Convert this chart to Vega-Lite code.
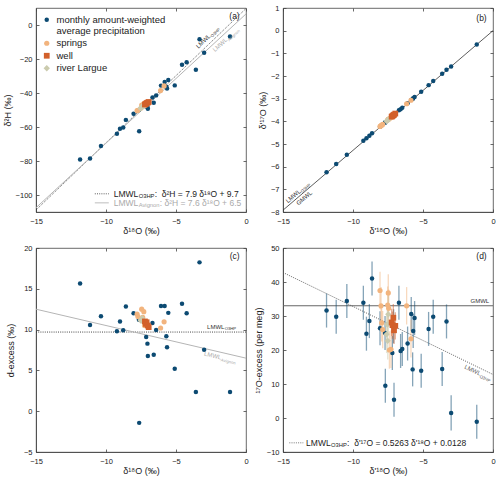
{
"$schema": "https://vega.github.io/schema/vega-lite/v6.json",
"padding": {"left": 2, "top": 3, "right": 5, "bottom": 2},
"bounds": "flush",
"columns": 2,
"spacing": {"row": 36, "column": 37},
"datasets": {
"pts": [
{"type":"precip","o18":-11.85,"h2":-79.14,"dex":15.66,"o18p":-11.89,"o17p":-6.246,"ex17":31.6,"err":5},
{"type":"precip","o18":-11.14,"h2":-78.55,"dex":10.57,"o18p":-11.2,"o17p":-5.884,"ex17":29.8,"err":5},
{"type":"precip","o18":-10.36,"h2":-71.24,"dex":11.64,"o18p":-10.44,"o17p":-5.478,"ex17":34.4,"err":5},
{"type":"precip","o18":-9.22,"h2":-63.96,"dex":9.8,"o18p":-9.26,"o17p":-4.855,"ex17":33.9,"err":5},
{"type":"precip","o18":-9.0,"h2":-61.0,"dex":11.0,"o18p":-9.04,"o17p":-4.748,"ex17":24.8,"err":5},
{"type":"precip","o18":-8.77,"h2":-60.24,"dex":9.92,"o18p":-8.83,"o17p":-4.634,"ex17":28.5,"err":5},
{"type":"precip","o18":-8.58,"h2":-55.81,"dex":12.83,"o18p":-8.64,"o17p":-4.521,"ex17":41.0,"err":5},
{"type":"precip","o18":-8.03,"h2":-52.24,"dex":12.0,"o18p":-8.07,"o17p":-4.235,"ex17":26.4,"err":5},
{"type":"precip","o18":-7.65,"h2":-50.0,"dex":11.2,"o18p":-7.71,"o17p":-4.046,"ex17":25.0,"err":5},
{"type":"precip","o18":-7.63,"h2":-62.47,"dex":-1.43,"o18p":-7.69,"o17p":-4.05,"ex17":9.5,"err":5},
{"type":"precip","o18":-7.13,"h2":-47.94,"dex":9.1,"o18p":-7.19,"o17p":-3.777,"ex17":19.1,"err":5},
{"type":"precip","o18":-7.04,"h2":-48.04,"dex":8.28,"o18p":-7.1,"o17p":-3.722,"ex17":27.0,"err":5},
{"type":"precip","o18":-7.01,"h2":-49.32,"dex":6.76,"o18p":-7.07,"o17p":-3.728,"ex17":5.4,"err":5},
{"type":"precip","o18":-6.68,"h2":-42.64,"dex":10.8,"o18p":-6.72,"o17p":-3.514,"ex17":33.9,"err":5},
{"type":"precip","o18":-6.59,"h2":-45.79,"dex":6.93,"o18p":-6.6,"o17p":-3.465,"ex17":19.7,"err":5},
{"type":"precip","o18":-6.42,"h2":-41.4,"dex":9.96,"o18p":-6.48,"o17p":-3.401,"ex17":20.3,"err":5},
{"type":"precip","o18":-6.07,"h2":-35.66,"dex":12.9,"o18p":-6.1,"o17p":-3.199,"ex17":21.9,"err":5},
{"type":"precip","o18":-5.81,"h2":-33.58,"dex":12.9,"o18p":-5.84,"o17p":-3.053,"ex17":30.6,"err":5},
{"type":"precip","o18":-5.69,"h2":-36.34,"dex":9.18,"o18p":-5.74,"o17p":-3.017,"ex17":14.3,"err":5},
{"type":"precip","o18":-5.64,"h2":-37.29,"dex":7.83,"o18p":-5.7,"o17p":-2.984,"ex17":25.6,"err":5},
{"type":"precip","o18":-5.55,"h2":-32.35,"dex":12.05,"o18p":-5.6,"o17p":-2.928,"ex17":29.4,"err":5},
{"type":"precip","o18":-5.09,"h2":-35.52,"dex":5.2,"o18p":-5.13,"o17p":-2.695,"ex17":13.9,"err":5},
{"type":"precip","o18":-4.57,"h2":-23.4,"dex":13.16,"o18p":-4.6,"o17p":-2.403,"ex17":26.2,"err":5},
{"type":"precip","o18":-4.24,"h2":-21.92,"dex":12.0,"o18p":-4.27,"o17p":-2.225,"ex17":29.8,"err":5},
{"type":"precip","o18":-3.58,"h2":-26.3,"dex":2.34,"o18p":-3.63,"o17p":-1.903,"ex17":14.4,"err":5},
{"type":"precip","o18":-3.32,"h2":-8.32,"dex":18.24,"o18p":-3.32,"o17p":-1.725,"ex17":28.4,"err":5},
{"type":"precip","o18":-2.99,"h2":-16.38,"dex":7.54,"o18p":-2.99,"o17p":-1.577,"ex17":1.5,"err":5.2},
{"type":"precip","o18":-1.14,"h2":-6.78,"dex":2.34,"o18p":-1.16,"o17p":-0.613,"ex17":-1.1,"err":5},
{"type":"springs","o18":-7.78,"h2":-50.34,"dex":11.9,"o18p":-8.07,"o17p":-4.224,"ex17":37.5,"err":5.5},
{"type":"springs","o18":-7.72,"h2":-50.16,"dex":11.6,"o18p":-8.0,"o17p":-4.191,"ex17":33.0,"err":5.5},
{"type":"springs","o18":-7.45,"h2":-47.1,"dex":12.5,"o18p":-7.95,"o17p":-4.17,"ex17":28.0,"err":5.5},
{"type":"springs","o18":-7.3,"h2":-46.2,"dex":12.2,"o18p":-7.88,"o17p":-4.135,"ex17":26.0,"err":5.5},
{"type":"springs","o18":-7.38,"h2":-47.54,"dex":11.5,"o18p":-7.48,"o17p":-3.912,"ex17":36.8,"err":5.5},
{"type":"springs","o18":-7.25,"h2":-47.5,"dex":10.5,"o18p":-7.52,"o17p":-3.938,"ex17":33.2,"err":5.5},
{"type":"springs","o18":-7.5,"h2":-48.8,"dex":11.2,"o18p":-7.45,"o17p":-3.902,"ex17":32.3,"err":5.5},
{"type":"springs","o18":-7.3,"h2":-47.4,"dex":11.0,"o18p":-7.4,"o17p":-3.887,"ex17":20.0,"err":5.5},
{"type":"springs","o18":-7.2,"h2":-46.9,"dex":10.7,"o18p":-7.29,"o17p":-3.829,"ex17":20.2,"err":5.5},
{"type":"springs","o18":-6.1,"h2":-38.6,"dex":10.2,"o18p":-6.17,"o17p":-3.225,"ex17":33.0,"err":5.5},
{"type":"springs","o18":-5.85,"h2":-35.85,"dex":10.95,"o18p":-5.86,"o17p":-3.071,"ex17":23.3,"err":5.5},
{"type":"river Largue","o18":-7.48,"h2":-48.64,"dex":11.2,"o18p":-7.6,"o17p":-3.988,"ex17":24.6,"err":5.5},
{"type":"river Largue","o18":-7.42,"h2":-47.96,"dex":11.4,"o18p":-7.52,"o17p":-3.948,"ex17":22.7,"err":5.5},
{"type":"river Largue","o18":-7.38,"h2":-48.04,"dex":11.0,"o18p":-7.48,"o17p":-3.919,"ex17":30.5,"err":5.5},
{"type":"river Largue","o18":-7.52,"h2":-49.06,"dex":11.1,"o18p":-7.55,"o17p":-3.959,"ex17":27.5,"err":5.5},
{"type":"well","o18":-7.22,"h2":-46.76,"dex":11.0,"o18p":-7.24,"o17p":-3.795,"ex17":28.1,"err":4},
{"type":"well","o18":-7.15,"h2":-46.5,"dex":10.7,"o18p":-7.18,"o17p":-3.764,"ex17":27.3,"err":4},
{"type":"well","o18":-7.1,"h2":-45.9,"dex":10.9,"o18p":-7.12,"o17p":-3.73,"ex17":29.5,"err":4},
{"type":"well","o18":-7.02,"h2":-45.66,"dex":10.5,"o18p":-7.07,"o17p":-3.707,"ex17":25.8,"err":4},
{"type":"well","o18":-6.95,"h2":-45.3,"dex":10.3,"o18p":-6.98,"o17p":-3.658,"ex17":27.1,"err":4}
]
},
"concat": [
{
"width": 210, "height": 204,
"resolve": {"axis": {"x": "independent", "y": "independent"}},
"layer": [
{
"encoding": {
 "x": {"field": "o18", "type": "quantitative", "scale": {"domain": [-15, 0], "nice": false, "zero": false}, "axis": {"values": [-15, -10, -5, 0], "title": "δ¹⁸O (‰)"}},
 "y": {"field": "h2", "type": "quantitative", "scale": {"domain": [-110, 10], "nice": false, "zero": false}, "axis": {"values": [-100, -80, -60, -40, -20, 0], "title": "δ²H (‰)", "titlePadding": 3}}
},
"layer": [
{"data": {"values": [{"o18": -15, "h2": -108.8}, {"o18": 0, "h2": 9.7}]}, "mark": {"type": "line", "strokeDash": [1, 1.2], "color": "#333", "strokeWidth": 0.8, "clip": true}},
{"data": {"values": [{"o18": -15, "h2": -107.5}, {"o18": 0, "h2": 6.5}]}, "mark": {"type": "line", "color": "#b5b5b5", "strokeWidth": 1, "clip": true}},
{"data": {"name": "pts"}, "mark": {"type": "point", "filled": true, "opacity": 1},
 "encoding": {
  "color": {"field": "type", "type": "nominal", "scale": {"domain": ["precip", "springs", "well", "river Largue"], "range": ["#0c4a72", "#f2b47e", "#d2602b", "#cbcbae"]}, "legend": {"title": null, "orient": "none", "legendX": 6, "legendY": 7, "labelExpr": "datum.label == 'precip' ? ['monthly amount-weighted', 'average precipitation'] : datum.label"}},
  "shape": {"field": "type", "type": "nominal", "scale": {"domain": ["precip", "springs", "well", "river Largue"], "range": ["circle", "circle", "square", "diamond"]}, "legend": {"title": null, "orient": "none", "legendX": 6, "legendY": 7, "labelExpr": "datum.label == 'precip' ? ['monthly amount-weighted', 'average precipitation'] : datum.label"}},
  "size": {"field": "type", "type": "nominal", "scale": {"domain": ["precip", "springs", "well", "river Largue"], "range": [20, 40, 28, 40]}, "legend": {"title": null, "orient": "none", "legendX": 6, "legendY": 7, "labelExpr": "datum.label == 'precip' ? ['monthly amount-weighted', 'average precipitation'] : datum.label"}}
 }},
{"data": {"values": [{"o18": -3.2, "h2": -15.6, "t": "LMWL"}]}, "mark": {"type": "text", "angle": -43.7, "align": "left", "baseline": "alphabetic", "dy": -4, "fontSize": 6, "color": "#333"}, "encoding": {"text": {"field": "t"}}},
{"data": {"values": [{"o18": -3.2, "h2": -15.6, "t": "O3HP"}]}, "mark": {"type": "text", "angle": -43.7, "align": "left", "baseline": "alphabetic", "dx": 17.6, "dy": -2.3, "fontSize": 4.2, "color": "#333"}, "encoding": {"text": {"field": "t"}}},
{"data": {"values": [{"o18": -2.55, "h2": -12.9, "t": "LMWL"}]}, "mark": {"type": "text", "angle": -42.6, "align": "left", "baseline": "alphabetic", "dy": 7, "fontSize": 6, "color": "#aaa"}, "encoding": {"text": {"field": "t"}}},
{"data": {"values": [{"o18": -2.55, "h2": -12.9, "t": "Avignon"}]}, "mark": {"type": "text", "angle": -42.6, "align": "left", "baseline": "alphabetic", "dx": 17.6, "dy": 8.7, "fontSize": 4.2, "color": "#aaa"}, "encoding": {"text": {"field": "t"}}},
{"data": {"values": [{"o18": -10.8, "x2": -9.8, "h2": -99.3}]}, "mark": {"type": "rule", "strokeDash": [1, 1.2], "color": "#333", "strokeWidth": 0.8}, "encoding": {"x2": {"field": "x2"}}},
{"data": {"values": [{"o18": -10.8, "x2": -9.8, "h2": -104.6}]}, "mark": {"type": "rule", "color": "#c8c8c8", "strokeWidth": 1.2}, "encoding": {"x2": {"field": "x2"}}},
{"data": {"values": [{"o18": -9.45, "h2": -99.3, "t": "LMWL"}]}, "mark": {"type": "text", "align": "left", "baseline": "middle", "fontSize": 8.5, "color": "#222"}, "encoding": {"text": {"field": "t"}}},
{"data": {"values": [{"o18": -9.45, "h2": -99.3, "t": "O3HP"}]}, "mark": {"type": "text", "align": "left", "baseline": "middle", "dx": 25, "dy": 2, "fontSize": 5.8, "color": "#222"}, "encoding": {"text": {"field": "t"}}},
{"data": {"values": [{"o18": -9.45, "h2": -99.3, "t": ":\u00a0 δ²H = 7.9 δ¹⁸O + 9.7"}]}, "mark": {"type": "text", "align": "left", "baseline": "middle", "dx": 41, "fontSize": 8.5, "color": "#222"}, "encoding": {"text": {"field": "t"}}},
{"data": {"values": [{"o18": -9.45, "h2": -104.6, "t": "LMWL"}]}, "mark": {"type": "text", "align": "left", "baseline": "middle", "fontSize": 8.5, "color": "#aaa"}, "encoding": {"text": {"field": "t"}}},
{"data": {"values": [{"o18": -9.45, "h2": -104.6, "t": "Avignon"}]}, "mark": {"type": "text", "align": "left", "baseline": "middle", "dx": 25, "dy": 2, "fontSize": 5.8, "color": "#aaa"}, "encoding": {"text": {"field": "t"}}},
{"data": {"values": [{"o18": -9.45, "h2": -104.6, "t": ": δ²H = 7.6 δ¹⁸O + 6.5"}]}, "mark": {"type": "text", "align": "left", "baseline": "middle", "dx": 46, "fontSize": 8.5, "color": "#aaa"}, "encoding": {"text": {"field": "t"}}}
]
},
{"data": {"values": [{"o18": -0.45, "h2": 5.3, "t": "(a)"}]}, "mark": {"type": "text", "align": "right", "baseline": "middle", "fontSize": 8.5, "color": "#222"},
 "encoding": {
  "x": {"field": "o18", "type": "quantitative", "scale": {"domain": [-15, 0], "nice": false, "zero": false}, "axis": {"orient": "top", "values": [-15, -10, -5, 0], "labels": false, "title": null, "domain": false}},
  "y": {"field": "h2", "type": "quantitative", "scale": {"domain": [-110, 10], "nice": false, "zero": false}, "axis": {"orient": "right", "values": [-100, -80, -60, -40, -20, 0], "labels": false, "title": null, "domain": false}},
  "text": {"field": "t"}}}
]
},
{
"width": 210, "height": 204,
"resolve": {"axis": {"x": "independent", "y": "independent"}},
"layer": [
{
"encoding": {
 "x": {"field": "o18p", "type": "quantitative", "scale": {"domain": [-15, 0], "nice": false, "zero": false}, "axis": {"values": [-15, -10, -5, 0], "title": "δ'¹⁸O (‰)"}},
 "y": {"field": "o17p", "type": "quantitative", "scale": {"domain": [-8, 1], "nice": false, "zero": false}, "axis": {"values": [-8, -7, -6, -5, -4, -3, -2, -1, 0, 1], "title": "δ'¹⁷O (‰)", "titlePadding": 3}}
},
"layer": [
{"data": {"values": [{"o18p": -15, "o17p": -7.92}, {"o18p": 0, "o17p": 0}]}, "mark": {"type": "line", "color": "#333", "strokeWidth": 0.8, "clip": true}},
{"data": {"name": "pts"}, "mark": {"type": "point", "filled": true, "opacity": 1},
 "encoding": {
  "color": {"field": "type", "type": "nominal", "scale": {"domain": ["precip", "springs", "well", "river Largue"], "range": ["#0c4a72", "#f2b47e", "#d2602b", "#cbcbae"]}, "legend": null},
  "shape": {"field": "type", "type": "nominal", "scale": {"domain": ["precip", "springs", "well", "river Largue"], "range": ["circle", "circle", "square", "diamond"]}, "legend": null},
  "size": {"field": "type", "type": "nominal", "scale": {"domain": ["precip", "springs", "well", "river Largue"], "range": [20, 40, 28, 40]}, "legend": null}
 }},
{"data": {"values": [{"o18p": -14.55, "o17p": -7.68, "t": "LMWL"}]}, "mark": {"type": "text", "angle": -40.5, "align": "left", "baseline": "alphabetic", "dy": -2, "fontSize": 6, "color": "#333"}, "encoding": {"text": {"field": "t"}}},
{"data": {"values": [{"o18p": -14.55, "o17p": -7.68, "t": "O3HP"}]}, "mark": {"type": "text", "angle": -40.5, "align": "left", "baseline": "alphabetic", "dx": 17.6, "dy": -0.5, "fontSize": 4.2, "color": "#333"}, "encoding": {"text": {"field": "t"}}},
{"data": {"values": [{"o18p": -14.2, "o17p": -7.5, "t": "GMWL"}]}, "mark": {"type": "text", "angle": -40.5, "align": "left", "baseline": "alphabetic", "dy": 6.5, "fontSize": 6, "color": "#333"}, "encoding": {"text": {"field": "t"}}}
]
},
{"data": {"values": [{"o18p": -0.45, "o17p": 0.56, "t": "(b)"}]}, "mark": {"type": "text", "align": "right", "baseline": "middle", "fontSize": 8.5, "color": "#222"},
 "encoding": {
  "x": {"field": "o18p", "type": "quantitative", "scale": {"domain": [-15, 0], "nice": false, "zero": false}, "axis": {"orient": "top", "values": [-15, -10, -5, 0], "labels": false, "title": null, "domain": false}},
  "y": {"field": "o17p", "type": "quantitative", "scale": {"domain": [-8, 1], "nice": false, "zero": false}, "axis": {"orient": "right", "values": [-8, -7, -6, -5, -4, -3, -2, -1, 0, 1], "labels": false, "title": null, "domain": false}},
  "text": {"field": "t"}}}
]
},
{
"width": 210, "height": 204,
"resolve": {"axis": {"x": "independent", "y": "independent"}},
"layer": [
{
"encoding": {
 "x": {"field": "o18", "type": "quantitative", "scale": {"domain": [-15, 0], "nice": false, "zero": false}, "axis": {"values": [-15, -10, -5, 0], "title": "δ¹⁸O (‰)"}},
 "y": {"field": "dex", "type": "quantitative", "scale": {"domain": [-5, 20], "nice": false, "zero": false}, "axis": {"values": [-5, 0, 5, 10, 15, 20], "title": "d-excess (‰)", "titlePadding": 8}}
},
"layer": [
{"data": {"values": [{"o18": -15, "dex": 9.7}, {"o18": 0, "dex": 9.7}]}, "mark": {"type": "line", "strokeDash": [1, 1.2], "color": "#333", "strokeWidth": 0.9, "clip": true}},
{"data": {"values": [{"o18": -15, "dex": 12.5}, {"o18": 0, "dex": 6.5}]}, "mark": {"type": "line", "color": "#b5b5b5", "strokeWidth": 1, "clip": true}},
{"data": {"name": "pts"}, "mark": {"type": "point", "filled": true, "opacity": 1},
 "encoding": {
  "color": {"field": "type", "type": "nominal", "scale": {"domain": ["precip", "springs", "well", "river Largue"], "range": ["#0c4a72", "#f2b47e", "#d2602b", "#cbcbae"]}, "legend": null},
  "shape": {"field": "type", "type": "nominal", "scale": {"domain": ["precip", "springs", "well", "river Largue"], "range": ["circle", "circle", "square", "diamond"]}, "legend": null},
  "size": {"field": "type", "type": "nominal", "scale": {"domain": ["precip", "springs", "well", "river Largue"], "range": [20, 40, 28, 40]}, "legend": null}
 }},
{"data": {"values": [{"o18": -2.78, "dex": 9.7, "t": "LMWL"}]}, "mark": {"type": "text", "align": "left", "baseline": "alphabetic", "dy": -3.5, "fontSize": 6, "color": "#333"}, "encoding": {"text": {"field": "t"}}},
{"data": {"values": [{"o18": -2.78, "dex": 9.7, "t": "O3HP"}]}, "mark": {"type": "text", "align": "left", "baseline": "alphabetic", "dx": 17.6, "dy": -2, "fontSize": 4.2, "color": "#333"}, "encoding": {"text": {"field": "t"}}},
{"data": {"values": [{"o18": -2.9, "dex": 7.66, "t": "LMWL"}]}, "mark": {"type": "text", "angle": 13, "align": "left", "baseline": "alphabetic", "dy": 7, "fontSize": 6, "color": "#aaa"}, "encoding": {"text": {"field": "t"}}},
{"data": {"values": [{"o18": -2.9, "dex": 7.66, "t": "Avignon"}]}, "mark": {"type": "text", "angle": 13, "align": "left", "baseline": "alphabetic", "dx": 17.6, "dy": 8.7, "fontSize": 4.2, "color": "#aaa"}, "encoding": {"text": {"field": "t"}}}
]
},
{"data": {"values": [{"o18": -0.45, "dex": 19.05, "t": "(c)"}]}, "mark": {"type": "text", "align": "right", "baseline": "middle", "fontSize": 8.5, "color": "#222"},
 "encoding": {
  "x": {"field": "o18", "type": "quantitative", "scale": {"domain": [-15, 0], "nice": false, "zero": false}, "axis": {"orient": "top", "values": [-15, -10, -5, 0], "labels": false, "title": null, "domain": false}},
  "y": {"field": "dex", "type": "quantitative", "scale": {"domain": [-5, 20], "nice": false, "zero": false}, "axis": {"orient": "right", "values": [-5, 0, 5, 10, 15, 20], "labels": false, "title": null, "domain": false}},
  "text": {"field": "t"}}}
]
},
{
"width": 210, "height": 204,
"resolve": {"axis": {"x": "independent", "y": "independent"}},
"layer": [
{
"encoding": {
 "x": {"field": "o18p", "type": "quantitative", "scale": {"domain": [-15, 0], "nice": false, "zero": false}, "axis": {"values": [-15, -10, -5, 0], "title": "δ'¹⁸O (‰)"}},
 "y": {"field": "ex17", "type": "quantitative", "scale": {"domain": [-10, 50], "nice": false, "zero": false}, "axis": {"values": [-10, 0, 10, 20, 30, 40, 50], "title": "¹⁷O-excess (per meg)", "titlePadding": 3}}
},
"layer": [
{"data": {"values": [{"o18p": -15, "ex17": 33}, {"o18p": 0, "ex17": 33}]}, "mark": {"type": "line", "color": "#666", "strokeWidth": 1.1, "clip": true}},
{"data": {"values": [{"o18p": -15, "ex17": 42.8}, {"o18p": 0, "ex17": 12.8}]}, "mark": {"type": "line", "strokeDash": [1, 1.2], "color": "#555", "strokeWidth": 0.9, "clip": true}},
{"data": {"name": "pts"}, "mark": {"type": "errorbar", "thickness": 1.3, "opacity": 0.5},
 "encoding": {
  "yError": {"field": "err"},
  "color": {"field": "type", "type": "nominal", "scale": {"domain": ["precip", "springs", "well", "river Largue"], "range": ["#0c4a72", "#f2b47e", "#d2602b", "#cbcbae"]}, "legend": null}
 }},
{"data": {"name": "pts"}, "mark": {"type": "point", "filled": true, "opacity": 1},
 "encoding": {
  "color": {"field": "type", "type": "nominal", "scale": {"domain": ["precip", "springs", "well", "river Largue"], "range": ["#0c4a72", "#f2b47e", "#d2602b", "#cbcbae"]}, "legend": null},
  "shape": {"field": "type", "type": "nominal", "scale": {"domain": ["precip", "springs", "well", "river Largue"], "range": ["circle", "circle", "square", "diamond"]}, "legend": null},
  "size": {"field": "type", "type": "nominal", "scale": {"domain": ["precip", "springs", "well", "river Largue"], "range": [20, 40, 28, 40]}, "legend": null}
 }},
{"data": {"values": [{"o18p": -1.61, "ex17": 33, "t": "GMWL"}]}, "mark": {"type": "text", "align": "left", "baseline": "alphabetic", "dy": -2.5, "fontSize": 6, "color": "#333"}, "encoding": {"text": {"field": "t"}}},
{"data": {"values": [{"o18p": -1.85, "ex17": 16.5, "t": "LMWL"}]}, "mark": {"type": "text", "angle": 25.8, "align": "left", "baseline": "alphabetic", "dy": 7, "fontSize": 6, "color": "#555"}, "encoding": {"text": {"field": "t"}}},
{"data": {"values": [{"o18p": -1.85, "ex17": 16.5, "t": "O3HP"}]}, "mark": {"type": "text", "angle": 25.8, "align": "left", "baseline": "alphabetic", "dx": 17.6, "dy": 8.7, "fontSize": 4.2, "color": "#555"}, "encoding": {"text": {"field": "t"}}},
{"data": {"values": [{"o18p": -14.55, "x2": -13.55, "ex17": -7.3}]}, "mark": {"type": "rule", "strokeDash": [1, 1.2], "color": "#555", "strokeWidth": 0.8}, "encoding": {"x2": {"field": "x2"}}},
{"data": {"values": [{"o18p": -13.35, "ex17": -7.3, "t": "LMWL"}]}, "mark": {"type": "text", "align": "left", "baseline": "middle", "fontSize": 8.5, "color": "#222"}, "encoding": {"text": {"field": "t"}}},
{"data": {"values": [{"o18p": -13.35, "ex17": -7.3, "t": "O3HP"}]}, "mark": {"type": "text", "align": "left", "baseline": "middle", "dx": 25, "dy": 2, "fontSize": 5.8, "color": "#222"}, "encoding": {"text": {"field": "t"}}},
{"data": {"values": [{"o18p": -13.35, "ex17": -7.3, "t": ":\u00a0 δ'¹⁷O = 0.5263 δ'¹⁸O + 0.0128"}]}, "mark": {"type": "text", "align": "left", "baseline": "middle", "dx": 41, "fontSize": 8.5, "color": "#222"}, "encoding": {"text": {"field": "t"}}}
]
},
{"data": {"values": [{"o18p": -0.45, "ex17": 47.7, "t": "(d)"}]}, "mark": {"type": "text", "align": "right", "baseline": "middle", "fontSize": 8.5, "color": "#222"},
 "encoding": {
  "x": {"field": "o18p", "type": "quantitative", "scale": {"domain": [-15, 0], "nice": false, "zero": false}, "axis": {"orient": "top", "values": [-15, -10, -5, 0], "labels": false, "title": null, "domain": false}},
  "y": {"field": "ex17", "type": "quantitative", "scale": {"domain": [-10, 50], "nice": false, "zero": false}, "axis": {"orient": "right", "values": [-10, 0, 10, 20, 30, 40, 50], "labels": false, "title": null, "domain": false}},
  "text": {"field": "t"}}}
]
}
],
"resolve": {"scale": {"color": "independent", "shape": "independent", "size": "independent"}, "legend": {"color": "independent", "shape": "independent", "size": "independent"}},
"config": {
"font": "Liberation Sans",
"view": {"stroke": "#444", "strokeWidth": 0.8},
"axis": {"grid": false, "labelFontSize": 7.5, "titleFontSize": 9, "titleFontWeight": "normal", "labelColor": "#222", "titleColor": "#222", "domainColor": "#444", "domainWidth": 0.8, "tickColor": "#444", "tickWidth": 0.8, "tickSize": -3, "labelFlush": false},
"axisX": {"labelPadding": 8, "titlePadding": 2},
"axisY": {"labelPadding": 7},
"legend": {"labelFontSize": 9.5, "labelColor": "#222", "labelOffset": 5, "rowPadding": 1.5, "symbolStrokeWidth": 0, "labelLimit": 300},
"text": {"font": "Liberation Sans"}
}
}
